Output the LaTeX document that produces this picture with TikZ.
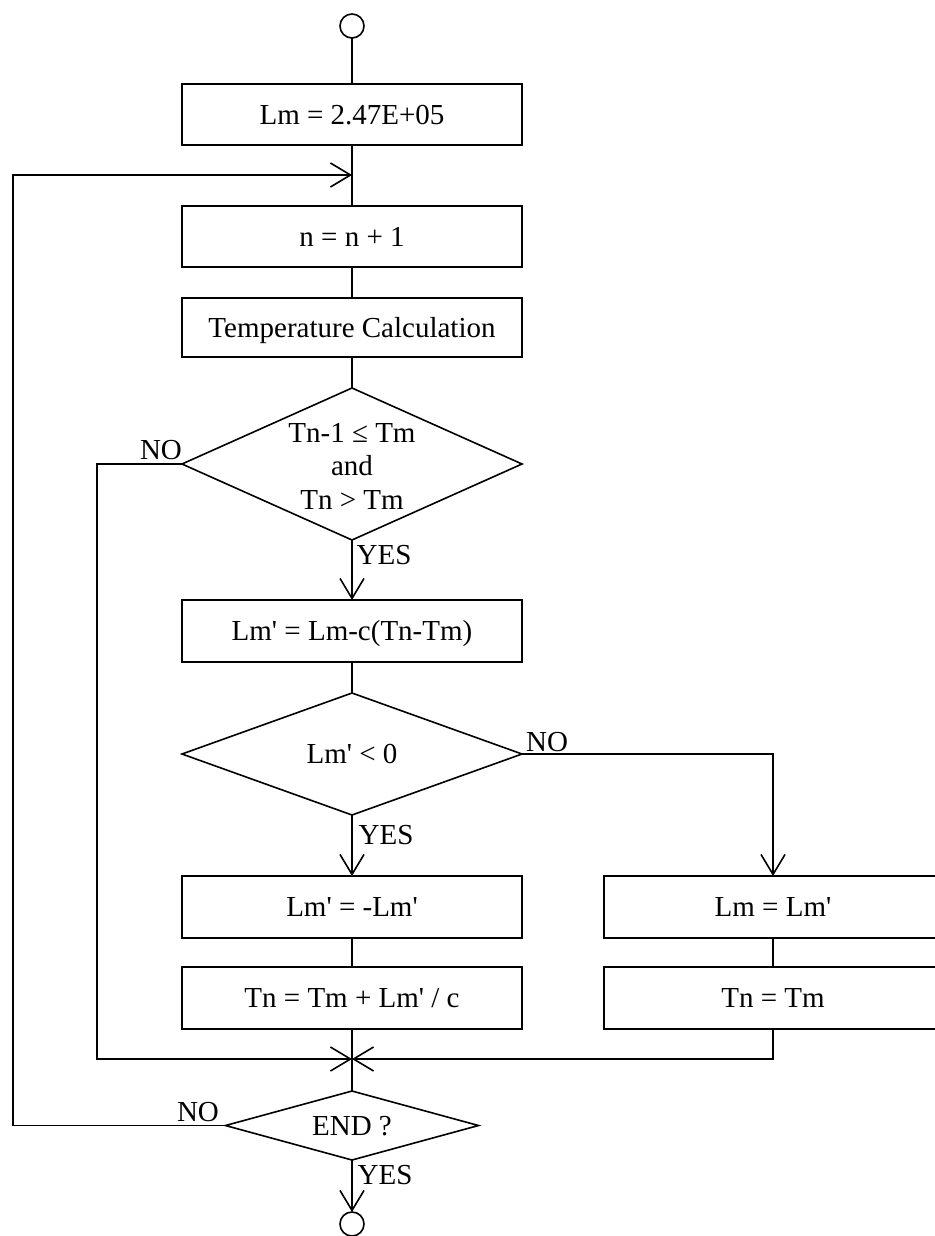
\documentclass[tikz,border=0pt]{standalone}
\usepackage{fontspec}
\setmainfont{Liberation Serif}[Ligatures=TeXOff]
\usetikzlibrary{shapes.geometric,arrows.meta}
\begin{document}
\begin{tikzpicture}[x=1pt,y=-1pt,line width=1.6pt,
  every node/.style={font=\fontsize{29}{33.5}\selectfont,text height=19.2pt,text depth=0pt},
  procbox/.style={draw,rectangle,minimum width=340pt,minimum height=61pt,inner sep=0pt,outer sep=0pt},
  decbox/.style={draw,diamond,inner sep=0pt,outer sep=0pt},
  termc/.style={draw,circle,minimum size=24pt,inner sep=0pt,outer sep=0pt},
  arr/.style={-{Straight Barb[length=20pt,width=24pt]}},
  lbl/.style={inner sep=0pt}]
\useasboundingbox (0,0) rectangle (934,1236);

% terminals
\node[termc] (start) at (352,26) {};
\node[termc] (stop) at (352,1224) {};

% process boxes (main column)
\node[procbox] (b1) at (352,114.5) {Lm = 2.47E+05};
\node[procbox] (b2) at (352,236.5) {n = n + 1};
\node[procbox,minimum height=59pt] (b3) at (352,327.5) {Temperature Calculation};
\node[procbox,minimum height=62pt] (b4) at (352,631) {Lm' = Lm-c(Tn-Tm)};
\node[procbox,minimum height=62pt] (b5) at (352,907) {Lm' = -Lm'};
\node[procbox,minimum height=62pt] (b6) at (352,998) {Tn = Tm + Lm' / c};

% right column
\node[procbox,minimum width=338pt,minimum height=62pt] (b7) at (773,907) {Lm = Lm'};
\node[procbox,minimum width=338pt,minimum height=62pt] (b8) at (773,998) {Tn = Tm};

% decisions
\node[decbox,minimum width=340pt,minimum height=152pt] (d1) at (352,464) {};
\node[align=center,text height=,text depth=,inner sep=0pt] (d1t) at (352,466) {Tn-1 ≤ Tm\\and\\Tn > Tm};
\node[decbox,minimum width=340pt,minimum height=122pt] (d2) at (352,754) {};
\node (d2t) at (352,754) {Lm' < 0};
\node[decbox,minimum width=253pt,minimum height=69pt] (d3) at (352,1125.5) {};
\node (d3t) at (352,1125.5) {END ?};

% helper coordinates
\coordinate (L) at (352,175);
\coordinate (LL) at (13,175);
\coordinate (m) at (352,1059);
\coordinate (NL) at (97,1059);

% connectors
\draw (start) -- (b1);
\draw (b1) -- (b2);
\draw (b2) -- (b3);
\draw (b3) -- (d1);
\draw[arr] (d1) -- (b4);
\draw (b4) -- (d2);
\draw[arr] (d2) -- (b5);
\draw (b5) -- (b6);
\draw[arr] (d2.east) -| (b7.north);
\draw (b7) -- (b8);
\draw (b6) -- (d3);
\draw[arr] (d1.west) -| (NL) -- (m);
\draw[arr] (b8.south) |- (m);
\draw[arr] (d3.west) -| (LL) -- (L);
\draw[arr] (d3) -- (stop);

% labels
\node[lbl] (no1) at (161,450) {NO};
\node[lbl] (yes1) at (384,555) {YES};
\node[lbl] (no2) at (547,742) {NO};
\node[lbl] (yes2) at (386,835) {YES};
\node[lbl] (no3) at (198,1112) {NO};
\node[lbl] (yes3) at (385,1175) {YES};
\end{tikzpicture}
\end{document}
